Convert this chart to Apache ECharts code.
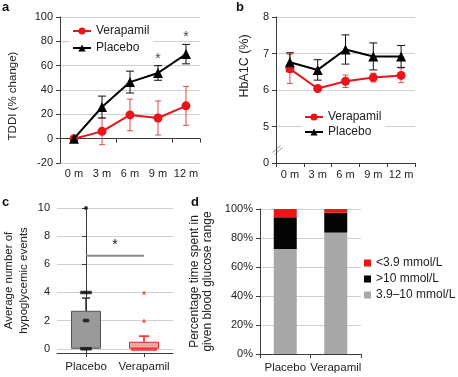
<!DOCTYPE html>
<html lang="en">
<head>
  <meta charset="UTF-8">
  <title>Verapamil vs Placebo</title>
  <style>
    * { margin: 0; padding: 0; }
    body { background: #fff; }
  </style>
  <script src="https://cdn.jsdelivr.net/npm/echarts@6/dist/echarts.min.js"></script>
</head>
<body>
  <div id="chart" style="width: 458px; height: 377px;"></div>
  <script>
    // a: TDDI % change
    const timesA = ['0 m', '3 m', '6 m', '9 m', '12 m']
    const verA = [0, 6, 19.5, 17, 27]
    const verAErr = [0, 11, 13, 14, 16]
    const plaA = [0, 26, 46.5, 54, 69.5]
    const plaAErr = [0, 9, 9, 6, 8]
    const sigA = [3, 4]

    // b: HbA1C
    const verB = [6.58, 6.04, 6.24, 6.34, 6.4]
    const verBErr = [0.4, 0.05, 0.17, 0.12, 0.2]
    const plaB = [6.76, 6.55, 7.11, 6.92, 6.92]
    const plaBErr = [0.26, 0.28, 0.4, 0.37, 0.3]

    // c: hypoglycemic events
    const groupsC = ['Placebo', 'Verapamil']
    const eventsPla = [10, 4, 4, 4, 4, 2, 2, 0, 0, 0, 0]
    const eventsVer = [4, 2, 0, 0, 0, 0, 0, 0, 0, 0, 0, 0]
    const meanC = [2.7, 0.5]
    const semC = [0.9, 0.4]
    const sigC = 6.6

    // d: time in glucose range
    const groupsD = ['Placebo', 'Verapamil']
    const rangeNames = ['<3.9 mmol/L', '>10 mmol/L', '3.9–10 mmol/L']
    const lowD = [5.7, 2.5]
    const highD = [21.9, 13.8]
    const inRangeD = [72.4, 83.7]

    const FONT = 'Liberation Sans, Arial, sans-serif'
    const RED = '#e8161c'
    const AXIS = '#3a3a3a'
    const GRID = '#cfcfcf'

    const chart = echarts.init(document.getElementById('chart'))

    // vertical error bar with caps: value = [x, low, high]
    function errBar(color, capW, width) {
      return function (params, api) {
        const x = api.value(0)
        const p1 = api.coord([x, api.value(1)])
        const p2 = api.coord([x, api.value(2)])
        const style = { stroke: color, lineWidth: width || 1 }
        return {
          type: 'group',
          children: [
            { type: 'line', shape: { x1: p1[0], y1: p1[1], x2: p2[0], y2: p2[1] }, style },
            { type: 'line', shape: { x1: p1[0] - capW / 2, y1: p1[1], x2: p1[0] + capW / 2, y2: p1[1] }, style },
            { type: 'line', shape: { x1: p2[0] - capW / 2, y1: p2[1], x2: p2[0] + capW / 2, y2: p2[1] }, style }
          ]
        }
      }
    }
    const errData = (m, e) => m.map((v, i) => [i, v - e[i], v + e[i]])

    // spread equal values side by side (beeswarm)
    function swarm(values, idx, step) {
      const counts = {}
      values.forEach(v => { counts[v] = (counts[v] || 0) + 1 })
      const seen = {}
      return values.map(v => {
        const k = seen[v] = (seen[v] || 0) + 1
        return [idx + (k - 1 - (counts[v] - 1) / 2) * step, v]
      })
    }

    const tickLabel = { fontSize: 11, color: '#222', fontFamily: FONT }
    const axisLine = { show: true, lineStyle: { color: AXIS, width: 1 } }
    const splitLine = { show: true, lineStyle: { color: GRID, width: 1 } }
    const nameStyle = { fontSize: 11.5, color: '#222', fontFamily: FONT, lineHeight: 14 }

    const option = {
      backgroundColor: '#fff',
      animation: false,
      textStyle: { fontFamily: FONT },
      grid: [
        { left: 60, top: 17, width: 140, height: 146 },
        { left: 276, top: 17, width: 139, height: 146 },
        { left: 57, top: 208, width: 116, height: 145 },
        { left: 260, top: 209, width: 101, height: 145 }
      ],
      xAxis: [
        { gridIndex: 0, type: 'category', data: timesA, position: 'bottom',
          axisLine: { ...axisLine, onZero: true }, axisTick: { show: true, length: 4, lineStyle: { color: AXIS } },
          axisLabel: { show: false } },
        { gridIndex: 0, type: 'category', data: timesA, position: 'bottom',
          axisLine: { show: false, onZero: false }, axisTick: { show: false },
          axisLabel: { ...tickLabel, interval: 0, margin: 5 } },
        { gridIndex: 1, type: 'category', data: timesA, position: 'bottom',
          axisLine, axisTick: { show: true, length: 4, lineStyle: { color: AXIS } },
          axisLabel: { ...tickLabel, interval: 0, margin: 6 } },
        { gridIndex: 2, type: 'category', data: groupsC, position: 'bottom',
          axisLine: { ...axisLine, onZero: false }, axisTick: { show: true, length: 4, alignWithLabel: true, lineStyle: { color: AXIS } },
          axisLabel: { ...tickLabel, interval: 0, fontSize: 11.5, margin: 8 } },
        { gridIndex: 2, type: 'value', min: -0.5, max: 1.5, show: false },
        { gridIndex: 3, type: 'category', data: groupsD, position: 'bottom',
          axisLine, axisTick: { show: true, length: 4, lineStyle: { color: AXIS } },
          axisLabel: { ...tickLabel, interval: 0, fontSize: 11.5, margin: 8 } }
      ],
      yAxis: [
        { gridIndex: 0, type: 'value', min: -20, max: 100, interval: 20,
          name: 'TDDI (% change)', nameLocation: 'middle', nameGap: 40, nameTextStyle: { ...nameStyle, padding: [0, 12, 0, 0] },
          axisLine, axisTick: { show: true, length: 4, lineStyle: { color: AXIS } },
          axisLabel: { ...tickLabel, margin: 7 }, splitLine },
        { gridIndex: 1, type: 'value', min: 4, max: 8, interval: 1,
          name: 'HbA1C (%)', nameLocation: 'middle', nameGap: 24, nameTextStyle: { ...nameStyle, fontSize: 12.5, padding: [0, 0, 0, 48] },
          axisLine, axisTick: { show: true, length: 4, lineStyle: { color: AXIS } },
          axisLabel: { ...tickLabel, margin: 7, formatter: v => (v === 4 ? '0' : v) }, splitLine },
        { gridIndex: 2, type: 'value', min: -0.3, max: 10, splitNumber: 5,
          name: 'Average number of\nhypoglycemic events', nameLocation: 'middle', nameGap: 26, nameTextStyle: { ...nameStyle, fontSize: 11.5, lineHeight: 15 },
          axisLine, axisTick: { show: true, length: 4, lineStyle: { color: AXIS } },
          axisLabel: { ...tickLabel, margin: 7, formatter: v => (v < 0 ? '' : v) }, splitLine },
        { gridIndex: 3, type: 'value', min: 0, max: 100, interval: 20,
          name: 'Percentage time spent in\ngiven blood glucose range', nameLocation: 'middle', nameGap: 46, nameTextStyle: { ...nameStyle, fontSize: 12, lineHeight: 13 },
          axisLine, axisTick: { show: true, length: 4, lineStyle: { color: AXIS } },
          axisLabel: { ...tickLabel, margin: 7, formatter: '{value}%' }, splitLine }
      ],
      legend: [
        { data: ['Verapamil', 'Placebo'], orient: 'vertical', left: 70, top: 23, itemGap: 5,
          itemWidth: 18, itemHeight: 9, backgroundColor: '#fff', padding: [2, 4, 2, 2],
          textStyle: { fontSize: 12, color: '#222' } },
        { data: ['Verapamil', 'Placebo'], orient: 'vertical', left: 302, top: 109, itemGap: 3,
          itemWidth: 18, itemHeight: 9, backgroundColor: '#fff', padding: [2, 4, 2, 2],
          textStyle: { fontSize: 12, color: '#222' } },
        { data: rangeNames, orient: 'vertical', left: 364, top: 257, itemGap: 4,
          itemWidth: 7, itemHeight: 7, icon: 'rect', padding: 0,
          textStyle: { fontSize: 12, color: '#222' } }
      ],
      series: [
        // a
        { type: 'custom', xAxisIndex: 0, yAxisIndex: 0, renderItem: errBar('#e04848', 6), data: errData(verA, verAErr), z: 1, silent: true },
        { type: 'custom', xAxisIndex: 0, yAxisIndex: 0, renderItem: errBar('#111', 8), data: errData(plaA, plaAErr), z: 1, silent: true },
        { name: 'Verapamil', type: 'line', xAxisIndex: 0, yAxisIndex: 0, data: verA, color: RED,
          symbol: 'circle', symbolSize: 9, lineStyle: { width: 2 }, z: 3 },
        { name: 'Placebo', type: 'line', xAxisIndex: 0, yAxisIndex: 0, data: plaA, color: '#000',
          symbol: 'triangle', symbolSize: 10, lineStyle: { width: 2 }, z: 4 },
        { type: 'scatter', xAxisIndex: 0, yAxisIndex: 0, symbolSize: 0, silent: true,
          data: sigA.map(i => [i, plaA[i] + plaAErr[i]]),
          label: { show: true, formatter: '*', position: 'top', distance: 0, fontSize: 14, color: '#111' } },
        // b
        { type: 'custom', xAxisIndex: 2, yAxisIndex: 1, renderItem: errBar('#e04848', 6), data: errData(verB, verBErr), z: 1, silent: true },
        { type: 'custom', xAxisIndex: 2, yAxisIndex: 1, renderItem: errBar('#111', 8), data: errData(plaB, plaBErr), z: 1, silent: true },
        { name: 'Verapamil', type: 'line', xAxisIndex: 2, yAxisIndex: 1, data: verB, color: RED,
          symbol: 'circle', symbolSize: 9, lineStyle: { width: 2 }, z: 3 },
        { name: 'Placebo', type: 'line', xAxisIndex: 2, yAxisIndex: 1, data: plaB, color: '#000',
          symbol: 'triangle', symbolSize: 10, lineStyle: { width: 2 }, z: 4 },
        // c
        { type: 'bar', xAxisIndex: 3, yAxisIndex: 2, barWidth: 30, startValue: -0.3,
          data: [
            { value: meanC[0], itemStyle: { color: '#9a9a9a', borderColor: '#555', borderWidth: 1 } },
            { value: meanC[1], itemStyle: { color: '#f6a3a3', borderColor: '#e22', borderWidth: 1 } }
          ], z: 1 },
        { type: 'custom', xAxisIndex: 3, yAxisIndex: 2, silent: true, z: 2,
          renderItem: function (params, api) {
            const i = api.value(0)
            const p1 = api.coord([i, api.value(1)])
            const p2 = api.coord([i, api.value(2)])
            const color = i === 0 ? '#333' : '#e22'
            const w = i === 0 ? 8 : 10
            return { type: 'group', children: [
              { type: 'line', shape: { x1: p1[0], y1: p1[1], x2: p2[0], y2: p2[1] }, style: { stroke: color, lineWidth: 1.5 } },
              { type: 'line', shape: { x1: p2[0] - w / 2, y1: p2[1], x2: p2[0] + w / 2, y2: p2[1] }, style: { stroke: color, lineWidth: 1.5 } }
            ] }
          },
          data: meanC.map((m, i) => [i, m, m + semC[i]]) },
        { type: 'scatter', xAxisIndex: 4, yAxisIndex: 2, symbol: 'circle', symbolSize: 4, color: '#111',
          data: swarm(eventsPla, 0, 0.048), z: 3 },
        { type: 'scatter', xAxisIndex: 4, yAxisIndex: 2, symbol: 'triangle', symbolSize: 4, color: '#e22',
          data: swarm(eventsVer, 1, 0.044), z: 3 },
        { type: 'custom', xAxisIndex: 3, yAxisIndex: 2, silent: true, z: 2,
          renderItem: function (params, api) {
            const a = api.coord([0, api.value(2)])
            const b = api.coord([1, api.value(2)])
            return { type: 'group', children: [
              { type: 'line', shape: { x1: a[0], y1: a[1], x2: b[0], y2: b[1] }, style: { stroke: '#8a8a8a', lineWidth: 2 } },
              { type: 'text', x: (a[0] + b[0]) / 2, y: a[1] - 4, style: { text: '*', fontSize: 14, fill: '#111', align: 'center', verticalAlign: 'bottom', fontFamily: FONT } }
            ] }
          },
          data: [[0, 1, sigC]] },
        // d
        { name: rangeNames[2], type: 'bar', stack: 'd', xAxisIndex: 5, yAxisIndex: 3, barWidth: 23, data: inRangeD, color: '#a8a8a8' },
        { name: rangeNames[1], type: 'bar', stack: 'd', xAxisIndex: 5, yAxisIndex: 3, barWidth: 23, data: highD, color: '#050505' },
        { name: rangeNames[0], type: 'bar', stack: 'd', xAxisIndex: 5, yAxisIndex: 3, barWidth: 23, data: lowD, color: '#ee1515' }
      ],
      graphic: [
        { type: 'text', left: 2, top: 1, style: { text: 'a', fontSize: 13, fontWeight: 'bold', fill: '#111', fontFamily: FONT } },
        { type: 'text', left: 236, top: 1, style: { text: 'b', fontSize: 13, fontWeight: 'bold', fill: '#111', fontFamily: FONT } },
        { type: 'text', left: 2, top: 196, style: { text: 'c', fontSize: 13, fontWeight: 'bold', fill: '#111', fontFamily: FONT } },
        { type: 'text', left: 191, top: 196, style: { text: 'd', fontSize: 13, fontWeight: 'bold', fill: '#111', fontFamily: FONT } },
        // axis break mark on b
        { type: 'group', left: 270, top: 143, children: [
          { type: 'line', shape: { x1: 0, y1: 9, x2: 8, y2: 2 }, style: { stroke: '#999', lineWidth: 1 } },
          { type: 'line', shape: { x1: 2, y1: 11, x2: 10, y2: 4 }, style: { stroke: '#999', lineWidth: 1 } }
        ] }
      ]
    }

    chart.setOption(option)
  </script>
</body>
</html>
